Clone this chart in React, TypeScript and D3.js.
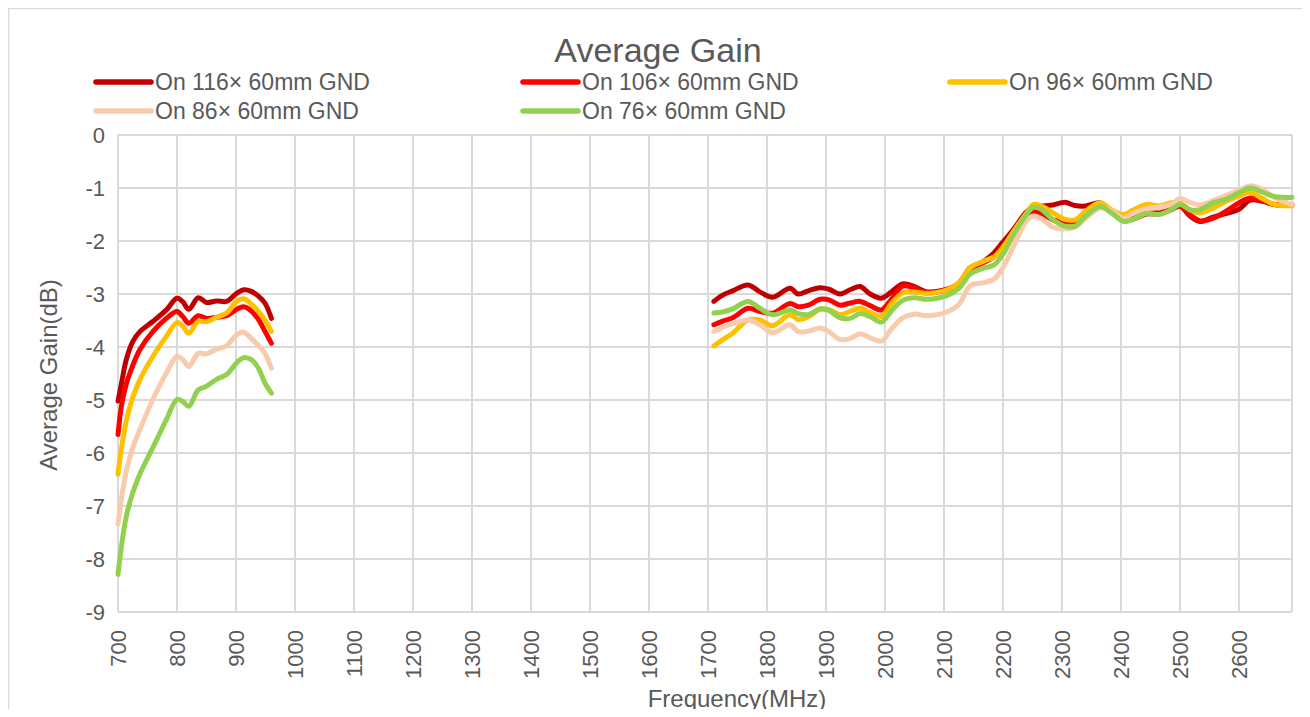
import React from 'react';
import * as d3 from 'd3';

// frequency points (MHz) for the two measured bands
const lowFreq = [700, 706, 714, 725, 737, 759, 782, 800, 810, 820, 836, 850, 867, 884, 901, 913, 926, 938, 949, 960];
const highFreq = [1710, 1725, 1742, 1768, 1788, 1810, 1839, 1853, 1870, 1890, 1905, 1924, 1941, 1958, 1975, 1994, 2011, 2030, 2050, 2071,
    2105, 2125, 2145, 2165, 2185, 2200, 2218, 2240, 2252, 2265, 2285, 2305, 2322, 2340, 2365, 2385, 2405, 2420, 2443, 2465,
    2485, 2500, 2517, 2534, 2556, 2579, 2600, 2619, 2640, 2660, 2690];

// average gain (dB)
const gnd116Low = [-5.02, -4.68, -4.24, -3.90, -3.71, -3.52, -3.30, -3.08, -3.15, -3.29, -3.07, -3.16, -3.13, -3.14, -2.99, -2.92, -2.95, -3.04, -3.17, -3.46];
const gnd106Low = [-5.65, -5.10, -4.70, -4.35, -4.05, -3.71, -3.46, -3.33, -3.43, -3.55, -3.41, -3.46, -3.44, -3.41, -3.29, -3.24, -3.32, -3.48, -3.70, -3.93];
const gnd96Low = [-6.40, -5.90, -5.40, -4.95, -4.62, -4.18, -3.80, -3.54, -3.61, -3.74, -3.52, -3.52, -3.44, -3.36, -3.14, -3.09, -3.19, -3.33, -3.49, -3.71];
const gnd86Low = [-7.34, -6.85, -6.35, -5.90, -5.56, -4.99, -4.49, -4.18, -4.24, -4.37, -4.12, -4.13, -4.04, -3.98, -3.77, -3.72, -3.84, -3.97, -4.12, -4.40];
const gnd76Low = [-8.29, -7.75, -7.20, -6.75, -6.40, -5.90, -5.37, -4.99, -5.03, -5.12, -4.81, -4.74, -4.61, -4.52, -4.30, -4.20, -4.24, -4.40, -4.68, -4.87];

const gnd116High = [-3.14, -3.02, -2.94, -2.83, -2.96, -3.06, -2.89, -3.00, -2.94, -2.88, -2.91, -3.00, -2.92, -2.86, -3.00, -3.08, -2.96, -2.81, -2.86, -2.96,
    -2.91, -2.80, -2.50, -2.40, -2.22, -2.02, -1.78, -1.45, -1.36, -1.34, -1.32, -1.27, -1.33, -1.34, -1.28, -1.45, -1.60, -1.58, -1.48, -1.47,
    -1.41, -1.34, -1.53, -1.63, -1.55, -1.48, -1.40, -1.23, -1.25, -1.31, -1.33];
const gnd106High = [-3.58, -3.51, -3.45, -3.27, -3.33, -3.36, -3.18, -3.24, -3.21, -3.10, -3.11, -3.21, -3.17, -3.14, -3.22, -3.30, -3.10, -2.85, -2.89, -2.97,
    -2.92, -2.80, -2.52, -2.42, -2.30, -2.10, -1.82, -1.52, -1.46, -1.48, -1.60, -1.63, -1.63, -1.45, -1.30, -1.45, -1.62, -1.59, -1.49, -1.49,
    -1.41, -1.34, -1.50, -1.62, -1.57, -1.43, -1.28, -1.19, -1.24, -1.31, -1.31];
const gnd96High = [-3.98, -3.86, -3.74, -3.49, -3.49, -3.60, -3.39, -3.48, -3.43, -3.29, -3.29, -3.39, -3.33, -3.27, -3.35, -3.42, -3.18, -2.98, -2.96, -2.99,
    -2.92, -2.79, -2.50, -2.39, -2.30, -2.12, -1.82, -1.47, -1.31, -1.34, -1.47, -1.59, -1.60, -1.44, -1.28, -1.42, -1.50, -1.42, -1.31, -1.34,
    -1.28, -1.28, -1.41, -1.47, -1.38, -1.25, -1.15, -1.08, -1.20, -1.31, -1.34];
const gnd86High = [-3.71, -3.63, -3.56, -3.49, -3.58, -3.73, -3.58, -3.71, -3.70, -3.64, -3.71, -3.86, -3.84, -3.75, -3.83, -3.89, -3.66, -3.45, -3.38, -3.41,
    -3.34, -3.20, -2.84, -2.79, -2.72, -2.50, -2.10, -1.62, -1.53, -1.58, -1.74, -1.77, -1.74, -1.57, -1.38, -1.43, -1.57, -1.48, -1.39, -1.36,
    -1.31, -1.20, -1.27, -1.32, -1.24, -1.14, -1.04, -0.96, -1.03, -1.18, -1.31];
const gnd76High = [-3.36, -3.34, -3.28, -3.14, -3.27, -3.39, -3.30, -3.37, -3.39, -3.28, -3.31, -3.45, -3.46, -3.37, -3.43, -3.53, -3.32, -3.12, -3.07, -3.10,
    -3.03, -2.90, -2.62, -2.52, -2.45, -2.25, -1.88, -1.50, -1.36, -1.40, -1.60, -1.72, -1.72, -1.53, -1.35, -1.48, -1.63, -1.59, -1.48, -1.50,
    -1.41, -1.31, -1.41, -1.41, -1.28, -1.21, -1.09, -1.00, -1.08, -1.16, -1.18];

const seriesNames = ['On 116\u00d7 60mm GND', 'On 106\u00d7 60mm GND', 'On 96\u00d7 60mm GND', 'On 86\u00d7 60mm GND', 'On 76\u00d7 60mm GND'];
const seriesColors = ['#C00000', '#FF0000', '#FFC000', '#F8CBAD', '#92D050'];
const lowValues = [gnd116Low, gnd106Low, gnd96Low, gnd86Low, gnd76Low];
const highValues = [gnd116High, gnd106High, gnd96High, gnd86High, gnd76High];

const xTicks = d3.range(700, 2601, 100);
const yTicks = d3.range(-9, 1, 1);

const W = 1302, H = 701;
const plot = { left: 110, right: 1284, top: 127, bottom: 604 };
const FONT = '"Liberation Sans", Arial, sans-serif';
const TEXT = '#595959';
const GRID = '#d9d9d9';

type Pt = { f: number; g: number } | null;

export default function App() {
    const x = d3.scaleLinear().domain([700, 2690]).range([plot.left, plot.right]);
    const y = d3.scaleLinear().domain([-9, 0]).range([plot.bottom, plot.top]);

    const line = d3.line<Pt>()
        .defined(d => d !== null)
        .x(d => x(d!.f))
        .y(d => y(d!.g))
        .curve(d3.curveCatmullRom.alpha(0.5));

    const series = seriesNames.map((name, i) => {
        const pts: Pt[] = [
            ...lowFreq.map((f, j) => ({ f, g: lowValues[i][j] })),
            null,
            ...highFreq.map((f, j) => ({ f, g: highValues[i][j] })),
        ];
        return { name, color: seriesColors[i], pts };
    });

    // legend: 3 columns, 2 rows
    const legendCols = [88, 515, 942];
    const legendRows = [74, 103];

    return (
        <svg width={W} height={H} style={{ display: 'block', overflow: 'visible' }} fontFamily={FONT}>
            <rect x={0} y={0} width={W} height={H} fill="#fff" />
            <path d={`M0.5,${H} V0.5 H1298.5 V${H}`} fill="none" stroke={GRID} strokeWidth={1.5} />

            {/* gridlines */}
            {yTicks.map(t => (
                <line key={'gy' + t} x1={plot.left} x2={plot.right} y1={y(t)} y2={y(t)} stroke={GRID} strokeWidth={2} />
            ))}
            {[...xTicks, 2690].map(t => (
                <line key={'gx' + t} x1={x(t)} x2={x(t)} y1={plot.top} y2={plot.bottom} stroke={GRID} strokeWidth={2} />
            ))}

            {/* tick labels */}
            {yTicks.map(t => (
                <text key={'ly' + t} x={97} y={y(t)} dy="0.36em" textAnchor="end" fontSize={22} fill={TEXT}>{t}</text>
            ))}
            {xTicks.map(t => (
                <text key={'lx' + t} transform={`translate(${x(t)},622) rotate(-90)`} dy="0.36em" textAnchor="end" fontSize={22} fill={TEXT}>{t}</text>
            ))}

            {/* series */}
            {series.map(s => (
                <path key={s.name} d={line(s.pts) || ''} fill="none" stroke={s.color} strokeWidth={5}
                    strokeLinejoin="round" strokeLinecap="round" />
            ))}

            {/* title */}
            <text x={650} y={54} textAnchor="middle" fontSize={34} fill={TEXT}>Average Gain</text>

            {/* legend */}
            {series.map((s, i) => {
                const cx = legendCols[i % 3];
                const cy = legendRows[Math.floor(i / 3)];
                return (
                    <g key={'lg' + i}>
                        <line x1={cx} x2={cx + 55} y1={cy} y2={cy} stroke={s.color} strokeWidth={5.5} strokeLinecap="round" />
                        <text x={cx + 59} y={cy} dy="0.36em" fontSize={23} fill={TEXT}>{s.name}</text>
                    </g>
                );
            })}

            {/* axis titles */}
            <text transform="translate(40,367) rotate(-90)" dy="0.36em" textAnchor="middle" fontSize={24} fill={TEXT}>Average Gain(dB)</text>
            <text x={729} y={690} dy="0.36em" textAnchor="middle" fontSize={24} fill={TEXT}>Frequency(MHz)</text>
        </svg>
    );
}
